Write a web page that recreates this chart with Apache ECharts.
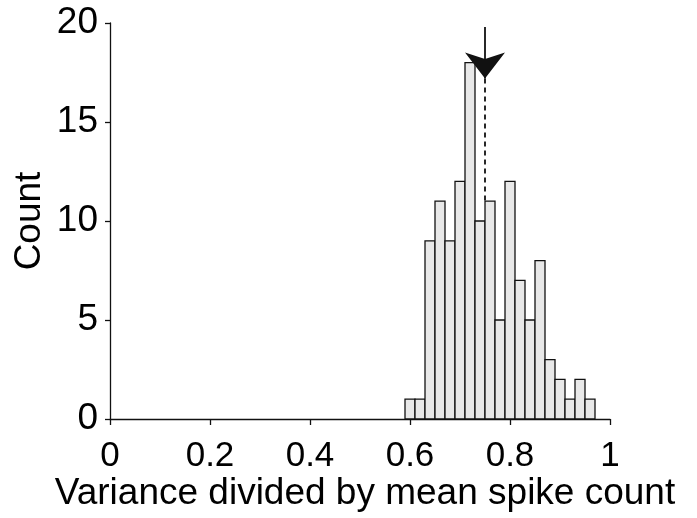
<!DOCTYPE html>
<html>
<head>
<meta charset="utf-8">
<script src="https://cdn.jsdelivr.net/npm/echarts@6/dist/echarts.min.js"></script>
<style>html,body{margin:0;padding:0;background:#fff}#c{width:697px;height:518px}</style>
</head>
<body>
<div id="c"></div>
<script>
// Histogram bins (left edges) and counts
var binStarts = [0.59,0.61,0.63,0.65,0.67,0.69,0.71,0.73,0.75,0.77,0.79,0.81,0.83,0.85,0.87,0.89,0.91,0.93,0.95];
var counts    = [1,   1,   9,   11,  9,   12,  18,  10,  11,  5,   12,  7,   5,   8,   3,   2,   1,   2,   1];
var binWidth = 0.02;
var xTicks = [0, 0.2, 0.4, 0.6, 0.8, 1];
var yTicks = [0, 5, 10, 15, 20];
var meanValue = 0.75;
var arrowTop = 19.8, arrowTip = 17.2, dashEnd = 11;

var data = binStarts.map(function(s,i){ return [s, s+binWidth, counts[i]]; });
var font = '"Liberation Sans", Arial, Helvetica, sans-serif';
var chart = echarts.init(document.getElementById('c'), null, {renderer:'canvas'});
chart.setOption({
  animation:false,
  backgroundColor:'#fff',
  grid:{left:110, right:87, top:23, bottom:99, containLabel:false, outerBoundsMode:'none'},
  xAxis:{
    type:'value', min:0, max:1, interval:0.2,
    name:'Variance divided by mean spike count', nameLocation:'middle', nameGap:56, nameMoveOverlap:false,
    nameTextStyle:{fontFamily:font, fontSize:37, color:'#000', padding:[0,0,0,10]},
    axisLine:{lineStyle:{color:'#111', width:1.3}},
    axisTick:{show:true, inside:false, length:6, lineStyle:{color:'#111', width:1.3}},
    axisLabel:{fontFamily:font, fontSize:35, color:'#000', margin:20,
      formatter:function(v){ return String(Math.round(v*10)/10); }},
    splitLine:{show:false}
  },
  yAxis:{
    type:'value', min:0, max:20, interval:5,
    name:'Count', nameLocation:'middle', nameGap:62, nameMoveOverlap:false,
    nameTextStyle:{fontFamily:font, fontSize:37, color:'#000'},
    axisLine:{show:true, lineStyle:{color:'#111', width:1.3}},
    axisTick:{show:true, length:5, lineStyle:{color:'#111', width:1.3}},
    axisLabel:{fontFamily:font, fontSize:37, color:'#000', margin:12},
    splitLine:{show:false}
  },
  series:[{
    type:'custom',
    data:data,
    encode:{x:[0,1], y:2},
    renderItem:function(params, api){
      var p0 = api.coord([api.value(0), 0]);
      var p1 = api.coord([api.value(1), api.value(2)]);
      return {type:'rect', shape:{x:p0[0], y:p1[1], width:p1[0]-p0[0], height:p0[1]-p1[1]},
        style:{fill:'#e8e8e8', stroke:'#111', lineWidth:1.3}};
    },
    markLine:{
      silent:true, animation:false, label:{show:false},
      data:[
        [{coord:[meanValue, arrowTop], symbol:'none'},{coord:[meanValue, arrowTip], symbol:'arrow', symbolSize:[30,26]}],
        [{coord:[meanValue, arrowTip], symbol:'none', lineStyle:{type:[5,4]}},{coord:[meanValue, dashEnd], symbol:'none'}]
      ],
      lineStyle:{color:'#111', width:1.8, type:'solid'}
    }
  }]
});
</script>
</body>
</html>
